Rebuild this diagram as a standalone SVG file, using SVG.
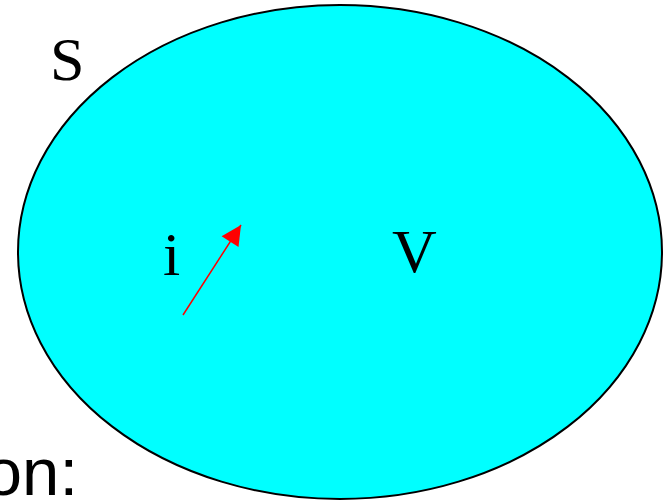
<svg xmlns="http://www.w3.org/2000/svg" width="663" height="502" viewBox="0 0 663 502">
<style>
.serif{font-family:"Liberation Serif","Times New Roman",serif;font-size:62px;fill:#000}
.sans{font-family:"Liberation Sans",Arial,sans-serif;font-size:67px;fill:#000}
</style>
<defs>
<marker id="ah" markerWidth="10" markerHeight="10" refX="9" refY="5" orient="auto" markerUnits="userSpaceOnUse" viewBox="0 0 10 10">
<path d="M0,0 L10,5 L0,10 Z" fill="#ff0000"/>
</marker>
</defs>
<rect width="663" height="502" fill="#fff"/>
<g id="region">
<ellipse cx="340" cy="252" rx="322" ry="247" fill="#00ffff" stroke="#000" stroke-width="2"/>
</g>
<g id="label-S"><text class="serif" x="50" y="80">S</text></g>
<g id="label-i"><text class="serif" x="163" y="275">i</text></g>
<g id="label-V"><text class="serif" x="392" y="272">V</text></g>
<g id="connectors">
<line x1="183" y1="315" x2="241" y2="225" stroke="#ff0000" stroke-width="1.5"/>
<path d="M241,225 L238.5,247 L221.6,236.2 Z" fill="#ff0000"/>
</g>
<g id="caption"><text class="sans" x="78" y="495" text-anchor="end">on:</text></g>
</svg>
